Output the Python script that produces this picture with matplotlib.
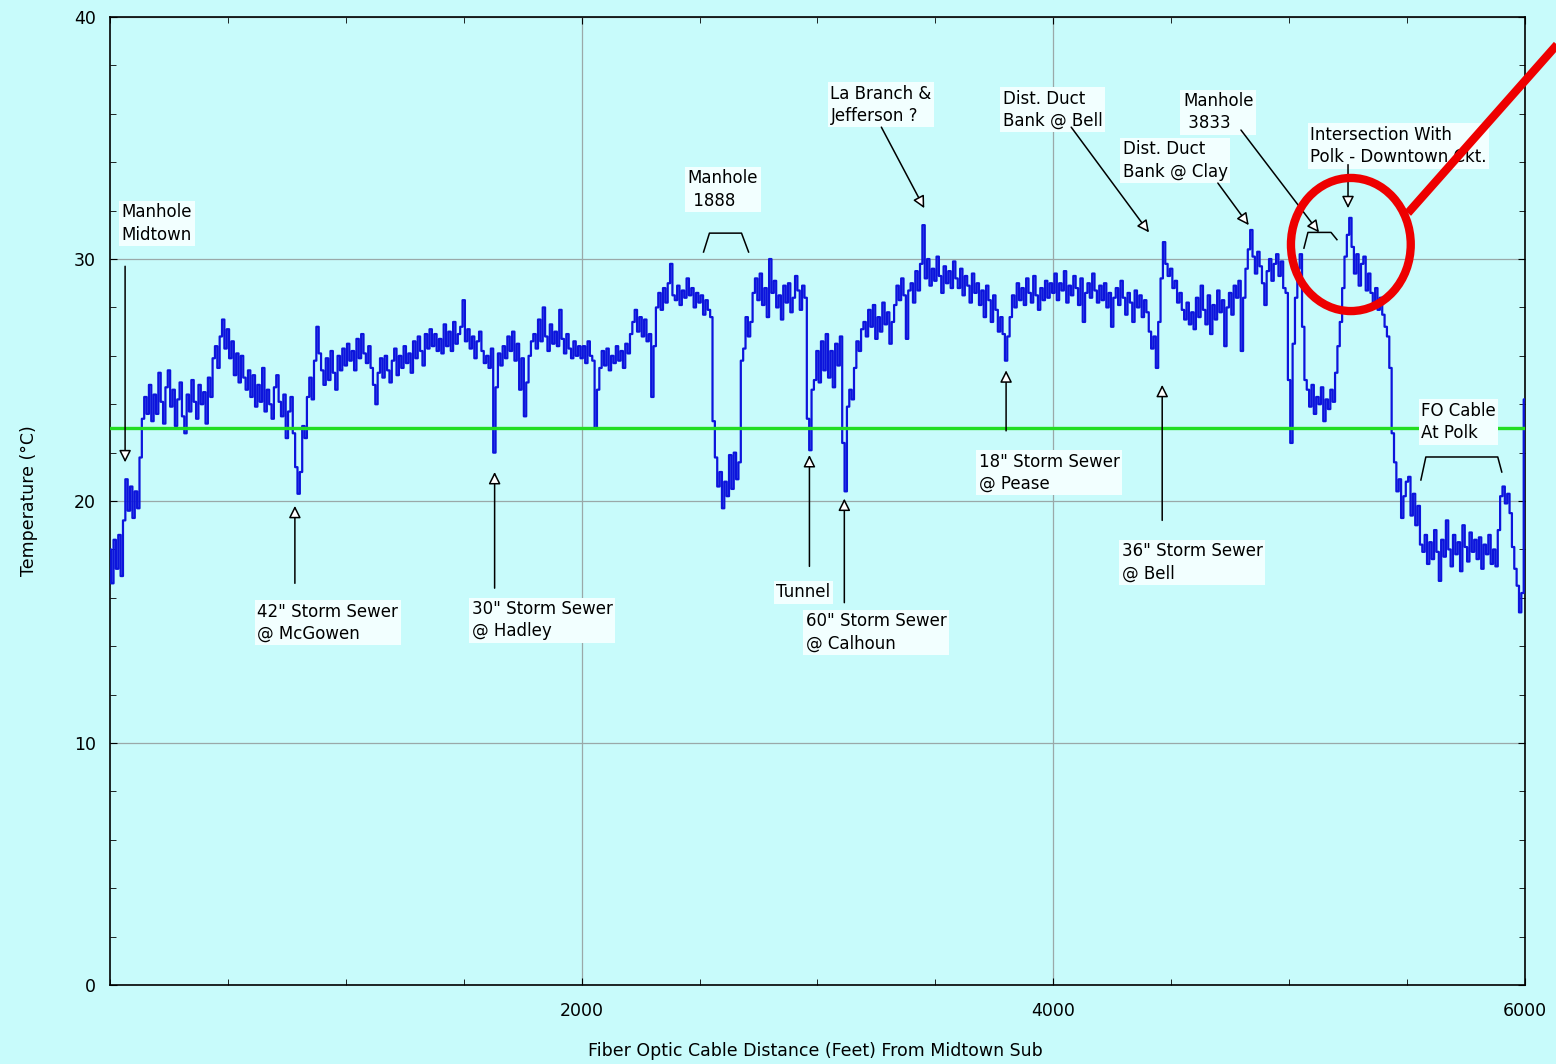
import numpy as np
import matplotlib
matplotlib.use('Agg')
import matplotlib.pyplot as plt
from matplotlib.patches import Ellipse

# fibre optic temperature trace, one reading every 10 ft (one row = 200 ft)
step_ft = 10
temp_c = [
    18.0, 16.6, 18.4, 17.2, 18.6, 16.9, 19.2, 20.9, 19.6, 20.6, 19.3, 20.4, 19.7, 21.8, 23.4, 24.3, 23.6, 24.8, 23.3, 24.4,
    23.6, 25.3, 24.1, 23.2, 24.7, 25.4, 23.9, 24.6, 23.1, 24.2, 24.9, 23.5, 22.8, 24.4, 23.7, 25.0, 24.1, 23.4, 24.8, 24.0,
    24.5, 23.2, 25.1, 24.3, 25.9, 26.4, 25.5, 26.8, 27.5, 26.3, 27.1, 25.9, 26.6, 25.2, 26.1, 24.9, 26.0, 25.1, 24.6, 25.4,
    24.3, 25.2, 23.9, 24.8, 24.1, 25.5, 23.7, 24.6, 24.0, 23.4, 24.7, 25.2, 24.1, 23.5, 24.4, 22.6, 23.7, 24.3, 22.8, 21.4,
    20.3, 21.2, 23.1, 22.6, 24.3, 25.1, 24.2, 25.8, 27.2, 26.1, 25.4, 24.8, 25.9, 25.0, 26.2, 25.3, 24.6, 26.0, 25.4, 26.3,
    25.6, 26.5, 25.8, 26.2, 25.4, 26.7, 25.9, 26.9, 26.1, 25.7, 26.4, 25.5, 24.8, 24.0, 25.3, 25.9, 25.1, 26.0, 25.4, 24.9,
    25.8, 26.3, 25.2, 26.0, 25.5, 26.4, 25.7, 26.1, 25.3, 26.6, 25.9, 26.8, 26.2, 25.6, 26.9, 26.3, 27.1, 26.4, 26.9, 26.2,
    26.7, 26.1, 27.3, 26.4, 27.0, 26.2, 27.4, 26.5, 26.9, 27.2, 28.3, 26.6, 27.1, 26.3, 26.8, 25.9, 26.6, 27.0, 26.2, 25.7,
    26.0, 25.5, 26.3, 22.0, 24.7, 26.1, 25.6, 26.4, 25.9, 26.8, 26.2, 27.0, 25.8, 26.5, 24.6, 25.9, 23.5, 24.9, 26.0, 26.6,
    26.9, 26.3, 27.5, 26.6, 28.0, 26.8, 26.2, 27.3, 26.5, 27.0, 26.4, 27.9, 26.7, 26.1, 26.9, 26.3, 25.9, 26.6, 26.0, 26.4,
    25.9, 26.4, 25.7, 26.6, 26.0, 25.8, 23.0, 24.6, 25.5, 26.2, 25.6, 26.3, 25.4, 26.0, 25.7, 26.4, 25.8, 26.2, 25.5, 26.5,
    26.1, 26.9, 27.4, 27.9, 27.0, 27.6, 26.8, 27.5, 26.6, 26.9, 24.3, 26.4, 28.0, 28.6, 27.9, 28.8, 28.2, 29.0, 29.8, 28.5,
    28.3, 28.9, 28.1, 28.7, 28.4, 29.2, 28.5, 28.8, 28.0, 28.6, 28.2, 28.5, 27.7, 28.3, 27.9, 27.6, 23.3, 21.8, 20.6, 21.2,
    19.7, 20.8, 20.2, 21.9, 20.5, 22.0, 20.9, 21.6, 25.8, 26.3, 27.6, 26.8, 27.4, 28.6, 29.2, 28.3, 29.4, 28.1, 28.8, 27.6,
    30.0, 28.6, 29.1, 28.0, 28.5, 27.5, 28.9, 28.2, 29.0, 27.8, 28.4, 29.3, 28.7, 27.9, 28.9, 28.4, 23.4, 22.1, 24.6, 25.0,
    26.2, 24.9, 26.6, 25.4, 26.9, 25.1, 26.2, 24.7, 26.5, 25.6, 26.8, 22.4, 20.4, 23.9, 24.6, 24.2, 25.5, 26.6, 26.2, 27.1,
    27.4, 26.8, 27.9, 27.2, 28.1, 26.7, 27.6, 27.0, 28.2, 27.3, 27.8, 26.5, 27.4, 28.1, 28.9, 28.3, 29.2, 28.5, 26.7, 28.7,
    29.0, 28.2, 29.5, 28.7, 29.8, 31.4, 29.2, 30.0, 28.9, 29.6, 29.1, 30.1, 29.3, 28.6, 29.7, 29.0, 29.5, 28.8, 29.9, 29.2,
    28.8, 29.6, 28.5, 29.3, 28.9, 28.2, 29.4, 28.6, 29.0, 28.1, 28.7, 27.6, 28.9, 28.3, 27.4, 28.5, 27.9, 27.0, 27.6, 26.9,
    25.8, 26.8, 27.6, 28.5, 28.0, 29.0, 28.3, 28.8, 28.1, 29.2, 28.6, 28.2, 29.3, 28.5, 27.9, 28.8, 28.3, 29.1, 28.4, 29.0,
    28.6, 29.4, 28.3, 29.0, 28.7, 29.5, 28.2, 28.9, 28.5, 29.3, 28.8, 28.1, 29.2, 27.4, 28.6, 29.0, 28.4, 29.4, 28.7, 28.2,
    28.9, 28.3, 29.0, 28.0, 28.6, 27.2, 28.4, 28.8, 28.1, 29.1, 28.4, 27.7, 28.6, 28.2, 27.4, 28.7, 28.0, 28.5, 27.6, 28.3,
    27.8, 27.0, 26.3, 26.8, 25.5, 27.4, 29.2, 30.7, 29.8, 29.3, 29.6, 28.8, 29.1, 28.2, 28.6, 27.9, 27.5, 28.2, 27.3, 27.8,
    27.1, 28.4, 27.6, 28.9, 27.9, 27.3, 28.5, 26.9, 28.1, 27.5, 28.7, 27.8, 28.3, 26.4, 28.0, 28.6, 27.7, 28.9, 28.4, 29.1,
    26.2, 28.4, 29.6, 30.4, 31.2, 30.1, 29.4, 30.3, 29.7, 29.0, 28.1, 29.5, 30.0, 29.1, 29.8, 30.2, 29.3, 29.9, 28.8, 28.6,
    25.0, 22.4, 26.5, 28.4, 29.6, 30.2, 27.2, 25.0, 24.6, 23.9, 24.8, 23.6, 24.3, 24.0, 24.7, 23.3, 24.2, 23.8, 24.6, 24.1,
    25.3, 26.4, 27.4, 28.8, 30.1, 31.0, 31.7, 30.5, 29.4, 30.2, 28.9, 29.8, 30.1, 28.7, 29.4, 28.6, 28.2, 28.8, 27.9, 28.4,
    27.7, 27.2, 26.8, 25.5, 22.8, 21.6, 20.4, 20.9, 19.3, 20.2, 20.8, 21.0, 19.4, 20.3, 19.0, 19.8, 18.2, 17.9, 18.6, 17.4,
    18.3, 17.6, 18.8, 17.9, 16.7, 18.4, 17.7, 19.2, 18.0, 17.3, 18.6, 17.8, 18.3, 17.1, 19.0, 18.1, 17.5, 18.7, 17.9, 18.4,
    17.6, 18.5, 17.2, 18.2, 17.8, 18.6, 17.4, 18.0, 17.3, 18.8, 20.2, 20.6, 19.9, 20.3, 19.5, 18.1, 17.2, 16.5, 15.4, 16.2,
    24.2,
]
distance_ft = np.arange(len(temp_c)) * step_ft

ambient_c = 23.0

# point labels: text, text position, arrow tail, arrow tip
arrow_notes = [
    ("Manhole\nMidtown", (50, 32.3), (64, 29.7), (64, 21.6)),
    ("42\" Storm Sewer\n@ McGowen", (625, 15.8), (784, 16.6), (784, 19.8)),
    ("30\" Storm Sewer\n@ Hadley", (1535, 15.9), (1631, 16.4), (1631, 21.2)),
    ("Tunnel", (2825, 16.6), (2966, 17.3), (2966, 21.9)),
    ("60\" Storm Sewer\n@ Calhoun", (2950, 15.4), (3114, 15.8), (3114, 20.1)),
    ("18\" Storm Sewer\n@ Pease", (3685, 22.0), (3800, 22.9), (3800, 25.4)),
    ("36\" Storm Sewer\n@ Bell", (4290, 18.3), (4462, 19.2), (4462, 24.8)),
    ("La Branch &\nJefferson ?", (3055, 37.2), (3271, 35.45), (3453, 32.1)),
    ("Dist. Duct\nBank @ Bell", (3785, 37.0), (4076, 35.45), (4406, 31.1)),
    ("Dist. Duct\nBank @ Clay", (4295, 34.9), (4698, 33.14), (4829, 31.4)),
    ("Manhole\n 3833", (4550, 36.9), (4796, 35.33), (5127, 31.1)),
    ("Intersection With\nPolk - Downtown Ckt.", (5090, 35.5), (5250, 33.9), (5250, 32.1)),
]

# bracket labels: text, text position, bracket corner points
bracket_notes = [
    ("Manhole\n 1888", (2450, 33.7), [(2517, 30.29), (2542, 31.07), (2678, 31.07), (2708, 30.29)]),
    (None, None, [(5063, 30.45), (5080, 31.1), (5178, 31.1), (5203, 30.8)]),
    ("FO Cable\nAt Polk", (5560, 24.1), [(5559, 20.87), (5580, 21.82), (5885, 21.82), (5902, 21.2)]),
]

bg = '#c8fbfb'
fig = plt.figure(figsize=(15.56, 10.64), dpi=100, facecolor=bg)
ax = fig.add_axes([0.0707, 0.0742, 0.9093, 0.9098])
ax.set_facecolor(bg)

ax.plot(distance_ft, temp_c, color='#0c14dc', lw=1.6, drawstyle='steps-mid', zorder=3)
ax.axhline(ambient_c, color='#22dd22', lw=2.4, zorder=4)

ax.set_xlim(0, 6000)
ax.set_ylim(0, 40)
ax.set_xticks([2000, 4000, 6000])
ax.set_xticks(np.arange(0, 6001, 500), minor=True)
ax.set_yticks([0, 10, 20, 30, 40])
ax.set_yticks(np.arange(0, 41, 2), minor=True)
ax.tick_params(which='both', direction='in', top=True, right=True, colors='black',
               labelsize=12.5)
ax.tick_params(which='major', length=5)
ax.tick_params(which='minor', length=4)
ax.tick_params(axis='x', pad=12)
ax.tick_params(axis='y', pad=10)
ax.grid(True, which='major', color='#9aa8a8', lw=0.9)
for sp in ax.spines.values():
    sp.set_color('black')
    sp.set_linewidth(1.2)

fig.text(0.524, 0.004, 'Fiber Optic Cable Distance (Feet) From Midtown Sub',
         fontsize=12.5, ha='center', va='bottom')
ax.set_ylabel('Temperature (\u00b0C)', fontsize=12.5, labelpad=26)

box = dict(boxstyle='square,pad=0.15', fc='#f2ffff', ec='none')
for text, xy_text, tail, tip in arrow_notes:
    ax.text(xy_text[0], xy_text[1], text, fontsize=12, va='top', ha='left',
            linespacing=1.3, bbox=box, zorder=5)
    ax.annotate('', xy=tip, xytext=tail,
                arrowprops=dict(arrowstyle='-|>', fc='white', ec='black', lw=1.1,
                                mutation_scale=18, shrinkA=0, shrinkB=0), zorder=5)

for text, xy_text, pts in bracket_notes:
    bx, by = zip(*pts)
    ax.plot(bx, by, color='black', lw=1.1, zorder=5)
    if text:
        ax.text(xy_text[0], xy_text[1], text, fontsize=12, va='top', ha='left',
                linespacing=1.3, bbox=box, zorder=5)

# highlight around the Polk intersection peak
ax.add_patch(Ellipse((5262, 30.6), 508, 5.5, fill=False, ec='#ee0000', lw=6,
                     clip_on=False, zorder=6))
ax.plot([5504, 6140], [31.9, 38.9], color='#ee0000', lw=6, solid_capstyle='butt',
        clip_on=False, zorder=6)

fig.savefig('out.png', dpi=100, facecolor=bg)
